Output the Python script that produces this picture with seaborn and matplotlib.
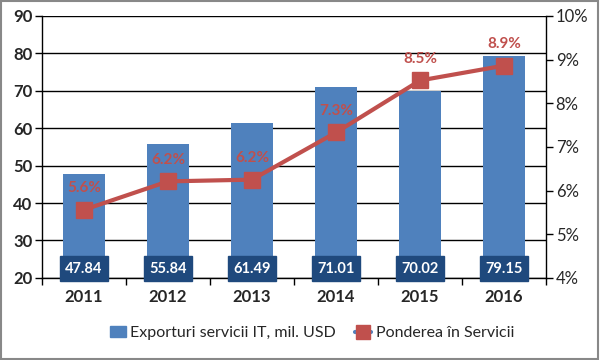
import matplotlib
matplotlib.use("Agg")
import matplotlib.pyplot as plt
import seaborn as sns
import pandas as pd
from matplotlib.lines import Line2D
from matplotlib.patches import Patch, Rectangle

years = ["2011", "2012", "2013", "2014", "2015", "2016"]
exports = [47.84, 55.84, 61.49, 71.01, 70.02, 79.15]
share_pct = [5.56, 6.21, 6.25, 7.33, 8.52, 8.86]
bar_name = "Exporturi servicii IT, mil. USD"
line_name = "Ponderea în Servicii"

BLUE = "#4F81BD"
DARK = "#1F497D"
RED = "#C0504D"

sns.set_theme(style="white")
plt.rcParams["font.family"] = ["Lato", "DejaVu Sans"]

df = pd.DataFrame({"year": years, "exports": exports, "share": share_pct})

fig = plt.figure(figsize=(6, 3.6), dpi=100)
ax = fig.add_axes([0.07, 0.228, 0.84, 0.728])
sns.barplot(data=df, x="year", y="exports", color=BLUE, width=0.5,
            saturation=1, linewidth=0, ax=ax, zorder=3)
ax.set_ylim(20, 90)
ax.set_xlim(-0.5, 5.5)
ax.set_yticks(range(20, 91, 10))
ax.grid(axis="y", color="black", linewidth=1, zorder=0)
ax.set_axisbelow(True)
ax.set_xlabel("")
ax.set_ylabel("")
for s in ["top", "right"]:
    ax.spines[s].set_visible(False)
for s in ["left", "bottom"]:
    ax.spines[s].set_color("black")
    ax.spines[s].set_linewidth(1)
ax.tick_params(axis="y", which="major", direction="out", length=5, width=1,
               color="black", labelsize=12, pad=2)
for t in ax.get_yticklabels():
    t.set_fontweight("bold")
ax.tick_params(axis="x", which="major", length=0, labelsize=12, pad=8)
for t in ax.get_xticklabels():
    t.set_fontweight("bold")
ax.set_xticks([i - 0.5 for i in range(len(years) + 1)], minor=True)
ax.tick_params(axis="x", which="minor", direction="out", length=5, width=1,
               color="black", bottom=True)

# value labels at the bottom of each bar
for i, v in enumerate(exports):
    ax.text(i, 22.4, f"{v:.2f}", ha="center", va="center", color="white",
            fontsize=10.5, fontweight="bold", zorder=5,
            bbox=dict(boxstyle="square,pad=0.38", fc=DARK, ec=DARK))

ax2 = ax.twinx()
ax2.plot(range(len(years)), share_pct, color=RED, linewidth=3,
         marker="s", markersize=11, zorder=4)
ax2.set_ylim(4, 10)
ax2.set_yticks(range(4, 11))
ax2.set_yticklabels([f"{p}%" for p in range(4, 11)])
for s in ["top", "left", "bottom"]:
    ax2.spines[s].set_visible(False)
ax2.spines["right"].set_color("black")
ax2.spines["right"].set_linewidth(1)
ax2.tick_params(axis="y", direction="out", length=5, width=1, color="black",
                labelsize=12, pad=2)
ax2.grid(False)
for i, p in enumerate(share_pct):
    ax2.text(i, p + 0.5, f"{p:.1f}%", ha="center", va="center", color=RED,
             fontsize=11, fontweight="bold")

handles = [Patch(facecolor=BLUE, edgecolor=BLUE),
           Line2D([0], [0], color=BLUE, linewidth=3, marker="s",
                  markersize=10, markerfacecolor=RED, markeredgecolor=RED)]
fig.legend(handles, [bar_name, line_name], loc="center", ncol=2,
           bbox_to_anchor=(0.52, 0.075), frameon=False, fontsize=11.5,
           handlelength=1.0, handletextpad=0.3, columnspacing=1.2)

fig.patches.append(Rectangle((0.002, 0.003), 0.995, 0.994, transform=fig.transFigure,
                             fill=False, edgecolor="#888888", linewidth=1.5))

fig.savefig("out.png", dpi=100)
